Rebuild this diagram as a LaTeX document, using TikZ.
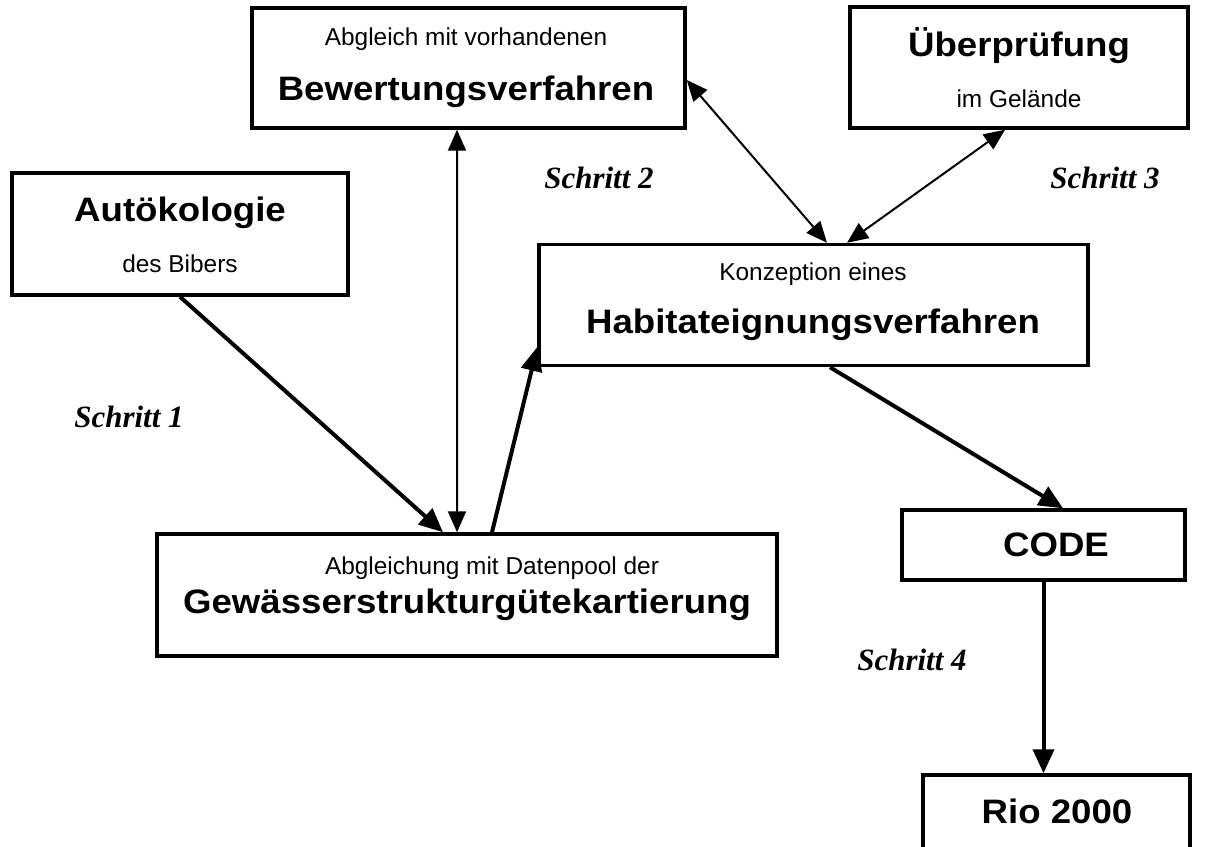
\documentclass[tikz,border=0pt]{standalone}
\usepackage{fontspec}
\setmainfont{Liberation Sans}
\newfontfamily\titlefont[FakeStretch=1.08]{Liberation Sans}
\newfontfamily\stepfont{Liberation Serif}
\usetikzlibrary{arrows.meta}

\begin{document}
\begin{tikzpicture}[
    x=0.02cm, y=-0.02cm,
    box/.style={draw, line width=0.07cm, inner sep=0pt},
    smalltext/.style={anchor=base, inner sep=0pt, font=\fontsize{13.9}{16}\selectfont},
    bigtext/.style={anchor=base, inner sep=0pt, font=\titlefont\bfseries\fontsize{19.3}{23}\selectfont},
    stepnote/.style={anchor=base, inner sep=0pt, font=\stepfont\bfseries\itshape\fontsize{17.6}{21}\selectfont},
    thickarrow/.style={line width=0.08cm, -{Triangle[length=0.48cm, width=0.42cm]}},
    thinarrow/.style={line width=0.04cm, {Triangle[length=0.42cm, width=0.36cm]}-{Triangle[length=0.42cm, width=0.36cm]}}
]
\useasboundingbox (0,0) rectangle (1217,846);
\clip (0,0) rectangle (1217,846);

% Boxes
\node[box, minimum width=8.66cm, minimum height=2.4cm] (bew) at (468.5,68) {};
\node[box, minimum width=6.76cm, minimum height=2.42cm] (ueb) at (1019,67.5) {};
\node[box, minimum width=6.72cm, minimum height=2.44cm] (auto) at (180,234) {};
\node[box, minimum width=10.98cm, minimum height=2.42cm] (hab) at (813.5,305) {};
\node[box, minimum width=12.4cm, minimum height=2.44cm] (gew) at (467,595) {};
\node[box, minimum width=5.66cm, minimum height=1.4cm] (code) at (1043.5,545) {};
\node[box, minimum width=5.34cm, minimum height=1.48cm] (rio) at (1056.5,812) {};

% Box texts
\node[smalltext] (bew1) at (466,45) {Abgleich mit vorhandenen};
\node[bigtext] (bew2) at (466,100) {Bewertungsverfahren};
\node[bigtext] (ueb1) at (1019,56) {Überprüfung};
\node[smalltext] (ueb2) at (1019,107) {im Gelände};
\node[bigtext] (auto1) at (180,221) {Autökologie};
\node[smalltext] (auto2) at (180,272) {des Bibers};
\node[smalltext] (hab1) at (813,280) {Konzeption eines};
\node[bigtext] (hab2) at (813,333) {Habitateignungsverfahren};
\node[smalltext] (gew1) at (492,574) {Abgleichung mit Datenpool der};
\node[bigtext] (gew2) at (467,613) {Gewässerstrukturgütekartierung};
\node[bigtext] (code1) at (1056,556) {CODE};
\node[bigtext] (rio1) at (1057,823) {Rio 2000};

% Steps
\node[stepnote] (s1) at (129,427) {Schritt 1};
\node[stepnote] (s2) at (599,188) {Schritt 2};
\node[stepnote] (s3) at (1105,188) {Schritt 3};
\node[stepnote] (s4) at (912,670) {Schritt 4};

% Arrows
\draw[thickarrow] (auto.south) -- ([xshift=-0.48cm]gew.north);
\draw[thinarrow] ([xshift=-0.23cm]bew.south) -- ([xshift=-0.2cm]gew.north);
\draw[thickarrow] ([xshift=0.5cm]gew.north) -- ([yshift=-0.84cm]hab.west);
\draw[thinarrow] ([yshift=-0.24cm]bew.east) -- ([xshift=0.27cm]hab.north);
\draw[thinarrow] ([xshift=0.67cm]hab.north) -- ([xshift=-0.28cm]ueb.south);
\draw[thickarrow] ([xshift=0.33cm]hab.south) -- ([xshift=0.39cm]code.north);
\draw[thickarrow] (code.south) -- (code.south |- rio.north);

\end{tikzpicture}
\end{document}
